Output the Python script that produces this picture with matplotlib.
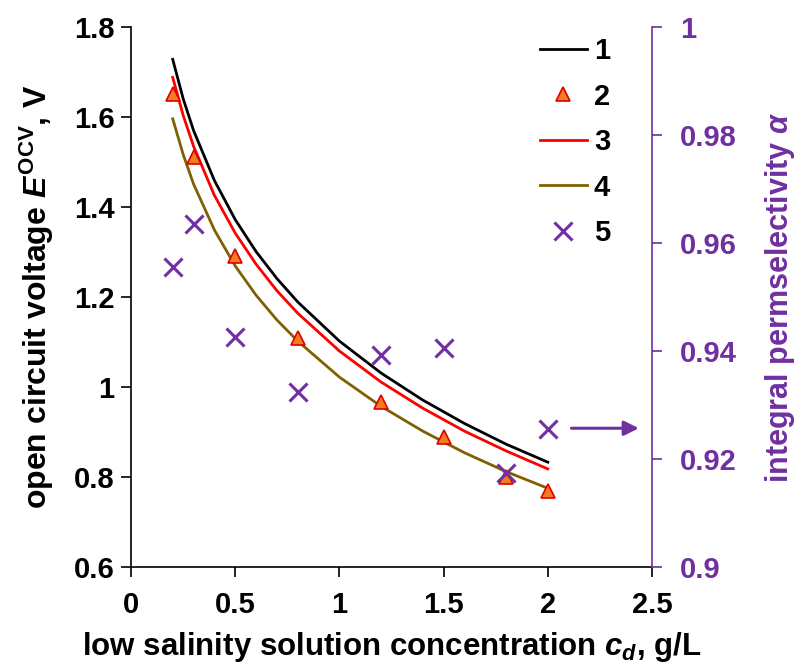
import matplotlib
matplotlib.use('Agg')
import matplotlib.pyplot as plt

plt.rcParams['font.family'] = ['Liberation Sans', 'DejaVu Sans']
plt.rcParams['font.weight'] = 'bold'
plt.rcParams['axes.labelweight'] = 'bold'
plt.rcParams['mathtext.fontset'] = 'custom'
plt.rcParams['mathtext.rm'] = 'Liberation Sans'
plt.rcParams['mathtext.it'] = 'Liberation Sans:italic:bold'
plt.rcParams['mathtext.bf'] = 'Liberation Sans:bold'

PURPLE = '#7030A0'
BROWN = '#806000'

# curves
c_line = [0.2, 0.25, 0.3, 0.4, 0.5, 0.6, 0.7, 0.8, 1.0, 1.2, 1.4, 1.6, 1.8, 2.0]
e_1 = [1.728, 1.641, 1.570, 1.459, 1.372, 1.301, 1.241, 1.189, 1.102, 1.031, 0.971, 0.919, 0.873, 0.833]
e_3 = [1.688, 1.604, 1.535, 1.426, 1.342, 1.273, 1.214, 1.164, 1.080, 1.011, 0.953, 0.902, 0.858, 0.818]
e_4 = [1.596, 1.517, 1.451, 1.349, 1.269, 1.204, 1.149, 1.102, 1.022, 0.957, 0.902, 0.854, 0.812, 0.775]

# measured points
c_pts = [0.2, 0.3, 0.5, 0.8, 1.2, 1.5, 1.8, 2.0]
e_2 = [1.650, 1.511, 1.290, 1.109, 0.967, 0.889, 0.800, 0.769]
alpha_5 = [0.9556, 0.9635, 0.9426, 0.9324, 0.9393, 0.9406, 0.9174, 0.9256]

fig = plt.figure(figsize=(7.99, 6.66), dpi=100)
ax = fig.add_axes([0.164, 0.1486, 0.652, 0.8109])
ax2 = ax.twinx()

l1, = ax.plot(c_line, e_1, color='black', lw=2)
l2, = ax.plot(c_pts, e_2, ls='none', marker='^', ms=10, mfc='#F47C20', mec='#E00000', mew=1.2, zorder=5)
l3, = ax.plot(c_line, e_3, color='#FF0000', lw=2)
l4, = ax.plot(c_line, e_4, color=BROWN, lw=2)
l5, = ax2.plot(c_pts, alpha_5, ls='none', marker='x', ms=13, mew=2.2, color=PURPLE)

ax.set_xlim(0, 2.5)
ax.set_ylim(0.6, 1.8)
ax2.set_ylim(0.9, 1.0)
ax.set_xticks([0, 0.5, 1, 1.5, 2, 2.5])
ax.set_xticklabels(['0', '0.5', '1', '1.5', '2', '2.5'])
ax.set_yticks([0.6, 0.8, 1.0, 1.2, 1.4, 1.6, 1.8])
ax.set_yticklabels(['0.6', '0.8', '1', '1.2', '1.4', '1.6', '1.8'])
ax2.set_yticks([0.9, 0.92, 0.94, 0.96, 0.98, 1.0])
ax2.set_yticklabels(['0.9', '0.92', '0.94', '0.96', '0.98', '1'])

for a in (ax, ax2):
    a.spines['top'].set_visible(False)
ax.spines['right'].set_visible(False)
ax2.spines['left'].set_visible(False)
ax2.spines['bottom'].set_visible(False)
ax2.spines['right'].set_color(PURPLE)
ax.tick_params(labelsize=21, length=7, width=1.2)
ax.tick_params(axis='y', pad=5)
ax.tick_params(axis='x', pad=10)
ax2.tick_params(labelsize=21, length=7, width=1.2, color=PURPLE, labelcolor=PURPLE, pad=13)
for s in ('left', 'bottom'):
    ax.spines[s].set_linewidth(1.2)
ax2.spines['right'].set_linewidth(1.2)

ax.set_ylabel(r'open circuit voltage $\mathit{E}^{\mathrm{OCV}}$, V', fontsize=23, labelpad=13)
ax.set_xlabel(r'low salinity solution concentration $\mathit{c_d}$, g/L', fontsize=22.5, labelpad=8)
ax2.set_ylabel(r'integral permselectivity $\mathit{\alpha}$', fontsize=22, color=PURPLE, labelpad=19)

# arrow pointing to the right axis
ax2.annotate('', xy=(2.45, 0.9257), xytext=(2.1, 0.9257),
             arrowprops=dict(arrowstyle='-|>', color=PURPLE, lw=2.2, mutation_scale=22))

ax2.legend([l1, l2, l3, l4, l5], ['1', '2', '3', '4', '5'], loc='upper right',
           bbox_to_anchor=(0.97, 1.03), frameon=False, fontsize=21, handlelength=1.6,
           labelspacing=0.6, handletextpad=0.25)

fig.savefig('out.png', dpi=100)
